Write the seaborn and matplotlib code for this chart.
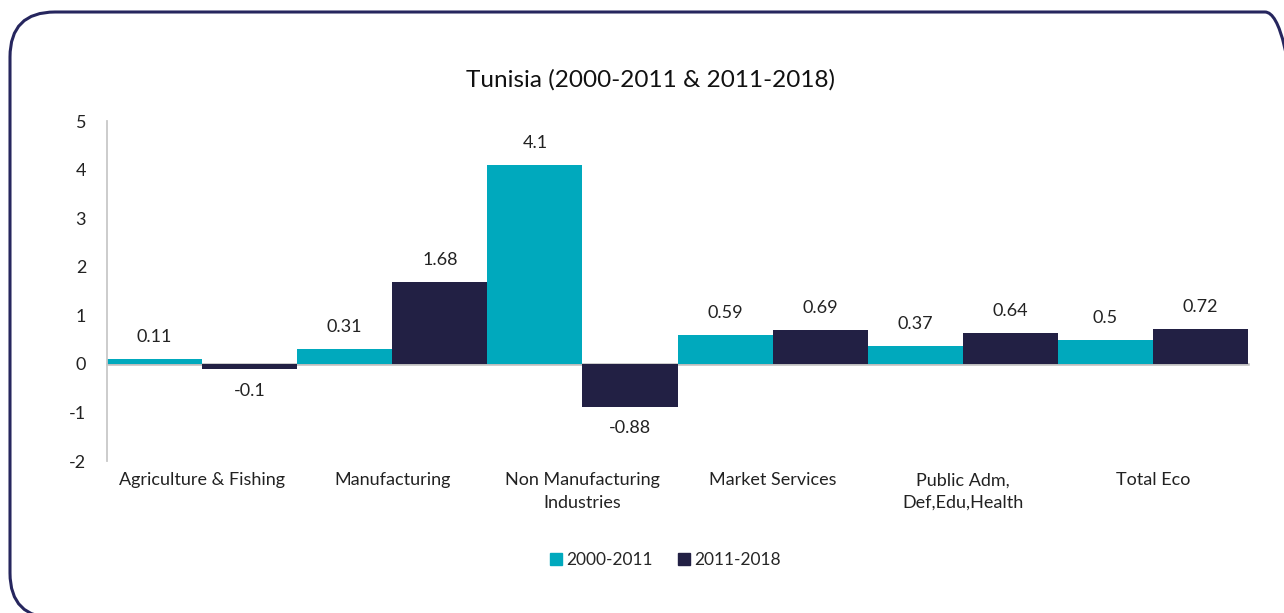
import matplotlib
matplotlib.use("Agg")
import matplotlib.pyplot as plt
from matplotlib.patches import FancyBboxPatch
from matplotlib.transforms import IdentityTransform, blended_transform_factory
from matplotlib.lines import Line2D
import seaborn as sns
import pandas as pd

# Sector growth figures for Tunisia over two periods
categories = ["Agriculture & Fishing", "Manufacturing", "Non Manufacturing\nIndustries",
              "Market Services", "Public Adm,\nDef,Edu,Health", "Total Eco"]
periods = ["2000-2011", "2011-2018"]
values_2000_2011 = [0.11, 0.31, 4.1, 0.59, 0.37, 0.5]
values_2011_2018 = [-0.1, 1.68, -0.88, 0.69, 0.64, 0.72]
y_ticks = [-2, -1, 0, 1, 2, 3, 4, 5]
colors = ["#00A9BD", "#222044"]

df = pd.DataFrame({
    "category": categories * 2,
    "period": [periods[0]] * len(categories) + [periods[1]] * len(categories),
    "value": values_2000_2011 + values_2011_2018,
})

sns.set_theme(style="white")
plt.rcParams["font.family"] = ["Lato", "DejaVu Sans"]

fig = plt.figure(figsize=(12.84, 6.13), dpi=100)
ax = fig.add_axes([107 / 1284, 1 - 461 / 613, (1248 - 107) / 1284, (461 - 121) / 613])

sns.barplot(data=df, x="category", y="value", hue="period", palette=colors,
            width=1.0, gap=0, dodge=True, legend=False, ax=ax, saturation=1,
            errorbar=None, linewidth=0)

ax.set_xlim(-0.5, len(categories) - 0.5)
ax.set_ylim(min(y_ticks), max(y_ticks))
ax.set_yticks(y_ticks)
ax.set_yticklabels([str(t) for t in y_ticks], fontsize=13, color="#222222")
ax.tick_params(axis="y", length=0, pad=15)
ax.set_xlabel("")
ax.set_ylabel("")

# Category axis drawn through zero with boundary tick marks
for side in ["top", "right"]:
    ax.spines[side].set_visible(False)
ax.spines["left"].set_color("#C8C8C8")
ax.spines["left"].set_linewidth(1.3)
ax.spines["bottom"].set_position(("data", 0))
ax.spines["bottom"].set_color("#BDBDBD")
ax.spines["bottom"].set_linewidth(1.8)
ax.spines["bottom"].set_zorder(0.5)
ax.set_xticks([i - 0.5 for i in range(len(categories) + 1)])
ax.set_xticklabels([])
ax.tick_params(axis="x", direction="out", length=6, width=1.3, color="#BDBDBD")

trans = blended_transform_factory(ax.transData, ax.transAxes)
for i, cat in enumerate(categories):
    ax.text(i, -0.033, cat, transform=trans, ha="center", va="top",
            fontsize=13, color="#222222", linespacing=1.5)

# Value labels
for cont, vals in zip(ax.containers, [values_2000_2011, values_2011_2018]):
    ax.bar_label(cont, labels=[f"{v:g}" for v in vals], padding=10,
                 fontsize=13, color="#222222")

fig.text(650 / 1284, 1 - 80 / 613, "Tunisia (2000-2011 & 2011-2018)",
         ha="center", va="center", fontsize=17.5, color="#111111")

handles = [Line2D([], [], marker="s", linestyle="", markersize=9,
                  markerfacecolor=c, markeredgecolor=c) for c in colors]
fig.legend(handles, periods, loc="center", bbox_to_anchor=(665 / 1284, 1 - 560 / 613),
           ncol=2, frameon=False, fontsize=12.5, handletextpad=0.2,
           columnspacing=1.4, handlelength=0.8)

# Rounded frame around the chart
frame = FancyBboxPatch((10, -5), 1300, 601 + 5,
                       boxstyle="round,pad=0,rounding_size=45",
                       transform=IdentityTransform(), fill=False,
                       edgecolor="#26265E", linewidth=2.2)
fig.patches.append(frame)

fig.savefig("out.png", dpi=100)
